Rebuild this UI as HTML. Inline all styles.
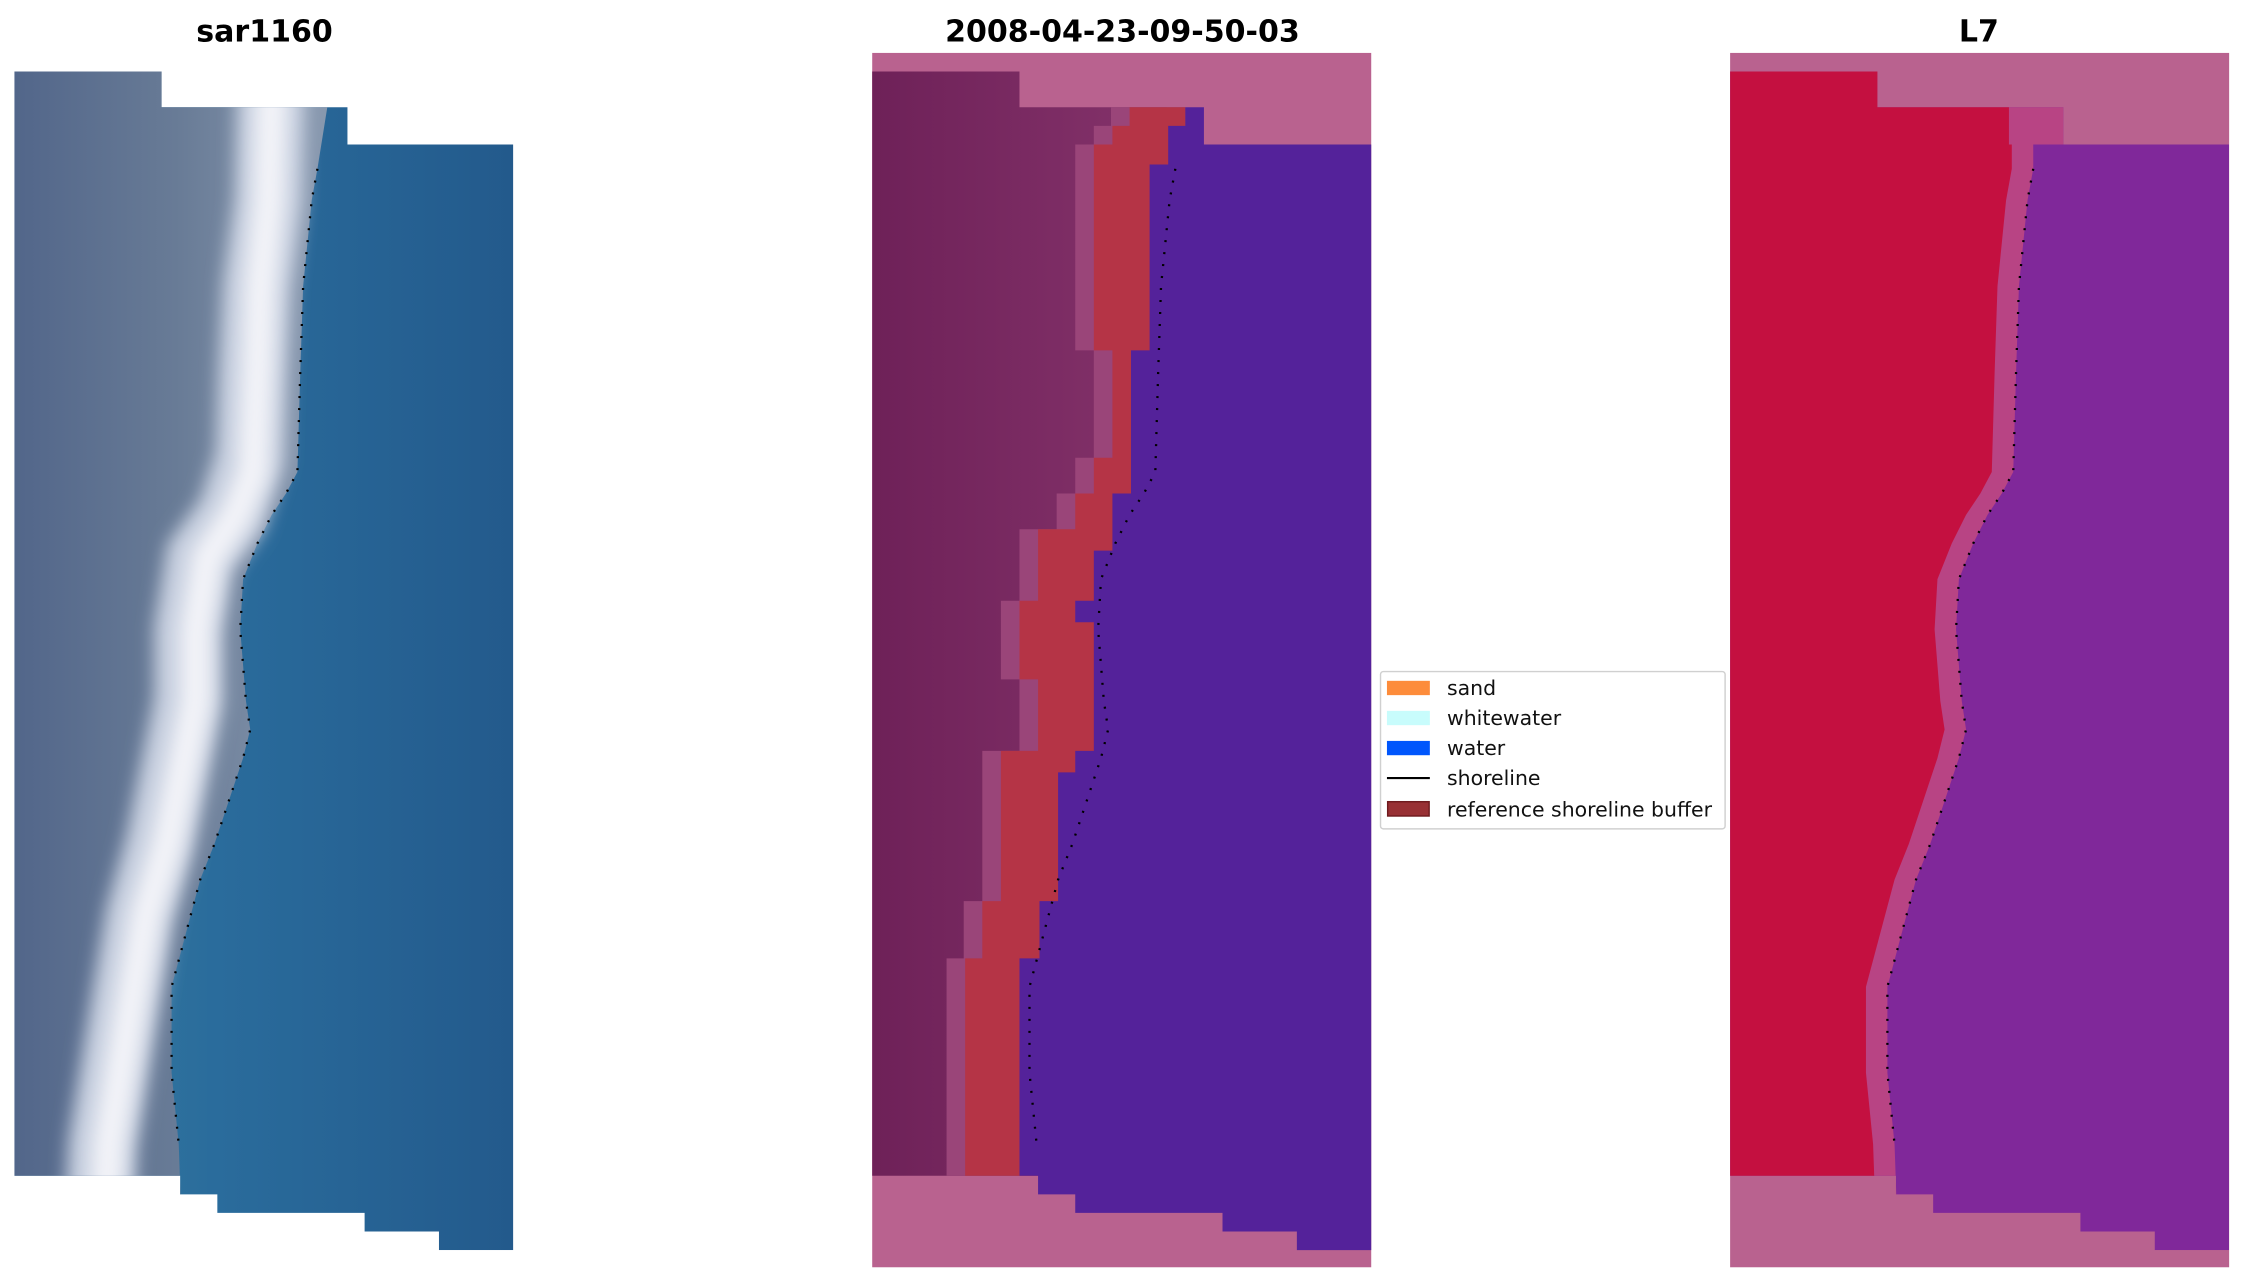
<!DOCTYPE html>
<html><head><meta charset="utf-8"><style>html,body{margin:0;padding:0;background:#fff}svg{display:block}</style></head>
<body>
<svg width="2242" height="1283" viewBox="0 0 1568 897" preserveAspectRatio="none" xmlns="http://www.w3.org/2000/svg" font-family="'DejaVu Sans','Liberation Sans',sans-serif">
<defs>
<linearGradient id="w1" x1="0" x2="1"><stop offset="0" stop-color="#3a7fa0"/><stop offset="0.4" stop-color="#2a6c9c"/><stop offset="1" stop-color="#235a8c"/></linearGradient>
<linearGradient id="l1" x1="0" x2="1"><stop offset="0" stop-color="#52668a"/><stop offset="0.5" stop-color="#687b96"/><stop offset="1" stop-color="#8a9ab0"/></linearGradient>
<linearGradient id="l2" x1="0" x2="1"><stop offset="0" stop-color="#6e2158"/><stop offset="1" stop-color="#86346c"/></linearGradient>
<filter id="bl" x="-50%" y="-10%" width="200%" height="120%"><feGaussianBlur stdDeviation="6"/></filter>
<clipPath id="v1"><path d="M10,50 H113 V75 H243 V101 H359 V874 H307 V861 H255 V848 H152 V835 H126 V822 H10 Z"/></clipPath>
<clipPath id="v3"><path d="M1210,50 H1313 V75 H1443 V101 H1559 V874 H1507 V861 H1455 V848 H1352 V835 H1326 V822 H1210 Z"/></clipPath>
</defs>
<text x="185" y="29" font-size="21" font-weight="bold" text-anchor="middle">sar1160</text>
<text x="785" y="29" font-size="21" font-weight="bold" text-anchor="middle">2008-04-23-09-50-03</text>
<text x="1384" y="29" font-size="21" font-weight="bold" text-anchor="middle">L7</text>

<!-- Panel 1 -->
<g clip-path="url(#v1)">
<rect x="10" y="37" width="349" height="849" fill="url(#w1)"/>
<path d="M10,37 H235 L222,118 L218,140 L212,200 L210,260 L208,330 L200,345 L190,360 L180,380 L170,405 L168,440 L172,490 L175,510 L170,530 L160,560 L150,590 L140,615 L128,660 L120,690 L120,750 L125,800 L128,886 H10 Z" fill="url(#l1)"/>
<polyline points="190,60 188,140 180,200 177,260 175,320 162,360 140,390 132,440 132,490 122,540 112,590 98,640 88,700 80,750 72,800 70,840" fill="none" stroke="#c8d0e0" stroke-width="48" filter="url(#bl)"/>
<polyline points="190,60 188,140 182,200 180,260 177,330 165,360 145,390 137,440 137,490 127,540 117,590 102,640 92,700 84,750 76,800 74,840" fill="none" stroke="#f2f3f8" stroke-width="22" filter="url(#bl)"/>
</g>
<polyline points="222,118 218,140 212,200 210,260 208,330 200,345 190,360 180,380 170,405 168,440 172,490 175,510 170,530 160,560 150,590 140,615 128,660 120,690 120,750 125,800" fill="none" stroke="#000" stroke-width="1.6" stroke-dasharray="1.4 7"/>

<!-- Panel 2 -->
<rect x="610" y="37" width="349" height="849" fill="#b9628f"/>
<path d="M610,50 H713 V75 H829 V822 H610 Z" fill="url(#l2)"/>
<path transform="translate(-13,0)" d="M790,75 H829 V822 H675 V670 H687 V630 H700 V525 H726 V475 H713 V420 H726 V370 H752 V345 H765 V320 H778 V245 H765 V101 H778 V88 H790 Z" fill="#9a4579"/>
<path d="M790,75 H829 V822 H675 V670 H687 V630 H700 V525 H726 V475 H713 V420 H726 V370 H752 V345 H765 V320 H778 V245 H765 V101 H778 V88 H790 Z" fill="#b53446"/>
<path d="M829,75 H842 V101 H959 V874 H907 V861 H855 V848 H752 V835 H726 V822 H713 V670 H727 V630 H740 V540 H752 V525 H765 V435 H752 V420 H765 V385 H778 V345 H791 V245 H804 V115 H817 V88 H829 Z" fill="#54229a"/>
<polyline transform="translate(600,0)" points="222,118 218,140 212,200 210,260 208,330 200,345 190,360 180,380 170,405 168,440 172,490 175,510 170,530 160,560 150,590 140,615 128,660 120,690 120,750 125,800" fill="none" stroke="#000" stroke-width="1.6" stroke-dasharray="1.4 7"/>

<!-- Panel 3 -->
<rect x="1210" y="37" width="349" height="849" fill="#b9628f"/>
<g clip-path="url(#v3)">
<rect x="1210" y="37" width="349" height="849" fill="#80289a"/>
<path transform="translate(1200,0)" d="M10,37 H245 V101 H222 L222,118 L218,140 L212,200 L210,260 L208,330 L200,345 L190,360 L180,380 L170,405 L168,440 L172,490 L175,510 L170,530 L160,560 L150,590 L140,615 L128,660 L120,690 L120,750 L125,800 L128,886 H10 Z" fill="#b84484"/>
<path transform="translate(1185,0)" d="M10,37 H220 V101 H222 L222,118 L218,140 L212,200 L210,260 L208,330 L200,345 L190,360 L180,380 L170,405 L168,440 L172,490 L175,510 L170,530 L160,560 L150,590 L140,615 L128,660 L120,690 L120,750 L125,800 L128,886 H10 Z" fill="#c41040"/>
</g>
<polyline transform="translate(1200,0)" points="222,118 218,140 212,200 210,260 208,330 200,345 190,360 180,380 170,405 168,440 172,490 175,510 170,530 160,560 150,590 140,615 128,660 120,690 120,750 125,800" fill="none" stroke="#000" stroke-width="1.6" stroke-dasharray="1.4 7"/>

<!-- Legend -->
<rect x="965.5" y="469.5" width="241" height="110" rx="2" fill="#fff" stroke="#d0d0d0" stroke-width="1"/>
<rect x="970" y="476" width="30" height="10" fill="#fd8c3b"/>
<rect x="970" y="497" width="30" height="10" fill="#c8fcfc"/>
<rect x="970" y="518" width="30" height="10" fill="#0056fc"/>
<line x1="970" y1="544" x2="1000" y2="544" stroke="#000" stroke-width="1.5"/>
<rect x="970.5" y="560.5" width="29" height="10" fill="#983034" stroke="#6e1a1e" stroke-width="1"/>
<g font-size="14.3" fill="#111">
<text x="1012" y="486">sand</text>
<text x="1012" y="507">whitewater</text>
<text x="1012" y="528">water</text>
<text x="1012" y="549">shoreline</text>
<text x="1012" y="571">reference shoreline buffer</text>
</g>
</svg>
</body></html>
